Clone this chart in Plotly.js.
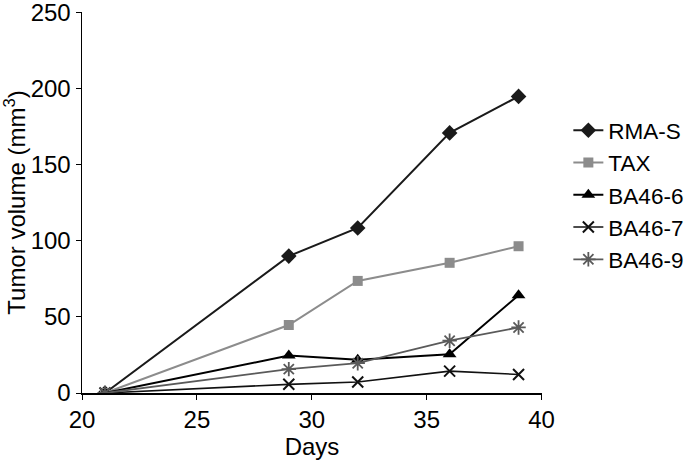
<!DOCTYPE html>
<html>
<head>
<meta charset="utf-8">
<script src="https://cdn.plot.ly/plotly-3.0.1.min.js"></script>
<style>html,body{margin:0;padding:0;background:#fff;}#chart{width:700px;height:462px;}</style>
</head>
<body>
<div id="chart"></div>
<script>
const days = [21, 29, 32, 36, 39];
const seriesNames = ["RMA-S", "TAX", "BA46-6", "BA46-7", "BA46-9"];
const rmaS = [0, 90, 108.5, 171, 195];
const tax = [0, 44.7, 73.7, 85.6, 96.5];
const ba466 = [0, 24.6, 21.8, 25.5, 64.3];
const ba467 = [0, 5.7, 7.2, 14.4, 12.2];
const ba469 = [0, 15.7, 19.6, 34.4, 43.1];
const xTicks = [20, 25, 30, 35, 40];
const yTicks = [0, 50, 100, 150, 200, 250];

const styles = [
  {color: "#1a1a1a", symbol: "diamond", size: 12, width: 2, lw: 0},
  {color: "#8c8c8c", symbol: "square", size: 10, width: 2, lw: 0},
  {color: "#000000", symbol: "triangle-up", size: 12, width: 2, lw: 0},
  {color: "#111111", symbol: "x-thin-open", size: 11, width: 1.6, lw: 2},
  {color: "#5a5a5a", symbol: "asterisk-open", size: 12, width: 1.8, lw: 1.8}
];
const values = [rmaS, tax, ba466, ba467, ba469];

const traces = values.map((v, i) => ({
  x: days, y: v, name: seriesNames[i], type: "scatter", mode: "lines+markers",
  line: {color: styles[i].color, width: styles[i].width},
  marker: {symbol: styles[i].symbol, size: styles[i].size, color: styles[i].color,
           line: {color: styles[i].color, width: styles[i].lw}}
}));

const fam = "Liberation Sans, Arial, Helvetica, sans-serif";
const font = {family: fam, size: 24, color: "#000"};
const legFont = {family: fam, size: 22.5, color: "#000"};

const layout = {
  width: 700, height: 462,
  margin: {l: 82, r: 157, t: 12, b: 69},
  paper_bgcolor: "#fff", plot_bgcolor: "#fff",
  font: font,
  showlegend: true,
  legend: {x: 1.055, xanchor: "left", y: 0.745, yanchor: "top", font: legFont,
           bgcolor: "rgba(0,0,0,0)", tracegroupgap: 0},
  xaxis: {range: [20, 40.02], tickvals: xTicks, ticktext: xTicks.map(String),
          showgrid: false, zeroline: false, showline: true, linecolor: "#000", linewidth: 1.5,
          ticks: "outside", ticklen: 5, tickcolor: "#000", tickfont: font,
          title: {text: "Days", font: font, standoff: 2}},
  yaxis: {range: [0, 250.5], tickvals: yTicks, ticktext: yTicks.map(String),
          showgrid: false, zeroline: false, showline: true, linecolor: "#000", linewidth: 1.5,
          ticks: "outside", ticklen: 5, tickcolor: "#000", tickfont: font,
          ticklabeloverflow: "allow",
          title: {text: "Tumor volume (mm<sup>3</sup>)", font: font, standoff: 4}}
};

Plotly.newPlot("chart", traces, layout, {displayModeBar: false, staticPlot: true});
</script>
</body>
</html>
